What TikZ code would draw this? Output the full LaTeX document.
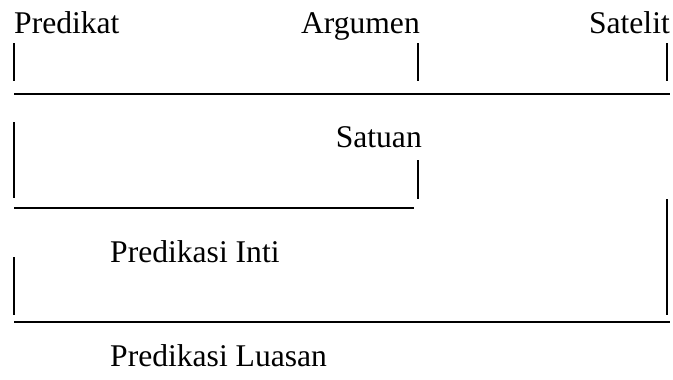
\documentclass[tikz,border=0pt]{standalone}
\usepackage{fontspec}
\setmainfont{Liberation Serif}
\begin{document}
\begin{tikzpicture}[x=1pt,y=-1pt,
  lbl/.style={inner sep=0pt,font=\fontsize{31.6}{38}\selectfont},
  bar/.style={line width=1.5pt},
  rule/.style={line width=1.3pt}]
\useasboundingbox (0,0) rectangle (673,380);
% labels
\node[lbl,anchor=base west] (pred) at (14,33.5) {Predikat};
\node[lbl,anchor=base east] (arg)  at (420,33.5) {Argumen};
\node[lbl,anchor=base east] (sat)  at (670,33.5) {Satelit};
\node[lbl,anchor=base east] (satu) at (422,147) {Satuan};
\node[lbl,anchor=base west] (pinti) at (110,262) {Predikasi Inti};
\node[lbl,anchor=base west] (pluas) at (110,366) {Predikasi Luasan};
% first tier: ticks and rule
\draw[bar] (14,43) -- (14,81);
\draw[bar] (418,43) -- (418,81);
\draw[bar] (667,43) -- (667,81);
\draw[rule] (14,94) -- (670,94);
% second tier: the unit
\draw[bar] (14,122) -- (14,198);
\draw[bar] (418,160) -- (418,199);
\draw[rule] (14,208) -- (414,208);
% third tier: core and extended predication
\draw[bar] (667,199) -- (667,315);
\draw[bar] (14,257) -- (14,315);
\draw[rule] (14,322) -- (670,322);
\end{tikzpicture}
\end{document}
